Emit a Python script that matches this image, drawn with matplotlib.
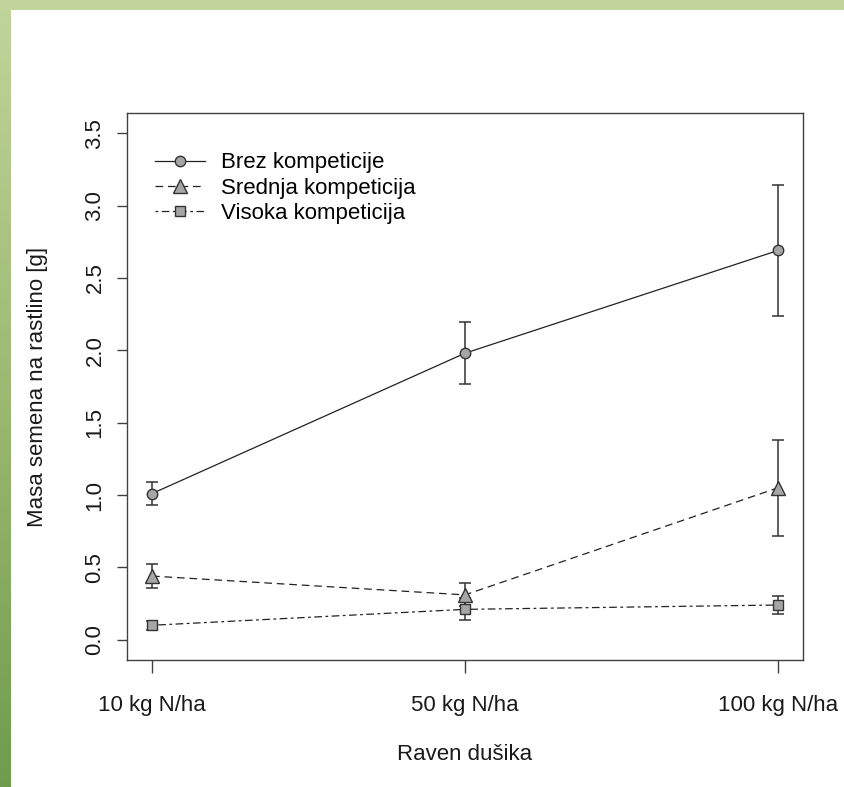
import numpy as np
import matplotlib
matplotlib.use("Agg")
from matplotlib import pyplot as plt
from matplotlib.colors import LinearSegmentedColormap

plt.rcParams['font.family'] = ['Liberation Sans', 'DejaVu Sans']
plt.rcParams['lines.scale_dashes'] = False

# nitrogen levels on the x axis
levels = ["10 kg N/ha", "50 kg N/ha", "100 kg N/ha"]

# mean seed mass per plant [g] and half-width of the error bars
brez = [1.01, 1.98, 2.69]
brez_err = [0.08, 0.215, 0.455]
srednja = [0.44, 0.31, 1.05]
srednja_err = [0.085, 0.08, 0.33]
visoka = [0.10, 0.21, 0.24]
visoka_err = [0.03, 0.075, 0.065]

names = ["Brez kompeticije", "Srednja kompeticija", "Visoka kompeticija"]

W, H = 844, 787
fig = plt.figure(figsize=(W / 100, H / 100), dpi=100)

# green frame at the top and on the left
top = fig.add_axes([0, 1 - 10 / H, 1, 10 / H])
top.set_axis_off()
top.add_patch(plt.Rectangle((0, 0), 1, 1, color='#c1d59b', transform=top.transAxes))
side = fig.add_axes([0, 0, 11 / W, 1 - 10 / H])
cmap = LinearSegmentedColormap.from_list('g', ['#6e9c4e', '#9cb873', '#bfd499'])
side.imshow(np.linspace(0, 1, 256).reshape(-1, 1), aspect='auto', cmap=cmap, origin='lower')
side.set_axis_off()

ax = fig.add_axes([127 / W, 127 / H, 676 / W, 547 / H])
x = np.arange(1, 4)
ink = '#333333'
fill = '#a6a6a6'

styles = [
    dict(marker='o', markersize=7.5, linestyle='-'),
    dict(marker='^', markersize=10, linestyle=(0, (5.5, 3.5))),
    dict(marker='s', markersize=6.5, linestyle=(0, (2, 2.5, 5.5, 2.5))),
]
series = [(brez, brez_err), (srednja, srednja_err), (visoka, visoka_err)]

for (y, e), st, name in zip(series, styles, names):
    ax.errorbar(x, y, yerr=e, fmt='none', ecolor=ink, elinewidth=1.1,
                capsize=4, capthick=1.1, zorder=2)
    ax.plot(x, y, color='#222222', linewidth=0.9, markerfacecolor=fill,
            markeredgecolor=ink, markeredgewidth=1.0, label=name, zorder=3, **st)

ax.set_xlim(0.92, 3.08)
ax.set_ylim(-0.14, 3.64)
ax.set_xticks(x)
ax.set_xticklabels(levels)
ax.set_yticks(np.arange(0, 3.6, 0.5))
ax.set_yticklabels([f"{v:.1f}" for v in np.arange(0, 3.6, 0.5)], rotation=90, va='center')

for s in ax.spines.values():
    s.set_color('#404040')
    s.set_linewidth(1.0)
ax.tick_params(axis='both', colors='#404040', labelcolor='#1a1a1a', labelsize=16, width=1.0)
ax.tick_params(axis='x', length=9, pad=16)
ax.tick_params(axis='y', length=7.5, pad=8)

ax.set_xlabel("Raven dušika", fontsize=16, color='#1a1a1a')
ax.xaxis.set_label_coords(0.5, -0.172)
ax.xaxis.label.set_va('center')
ax.set_ylabel("Masa semena na rastlino [g]", fontsize=16, color='#1a1a1a')
ax.yaxis.set_label_coords(-0.133, 0.5)
ax.yaxis.label.set_va('center')

ax.legend(loc='upper left', bbox_to_anchor=(0.041, 0.928), frameon=False,
          fontsize=16, handlelength=2.25, handletextpad=0.75,
          labelspacing=0.2, borderpad=0, borderaxespad=0)

fig.savefig("out.png", dpi=100)
